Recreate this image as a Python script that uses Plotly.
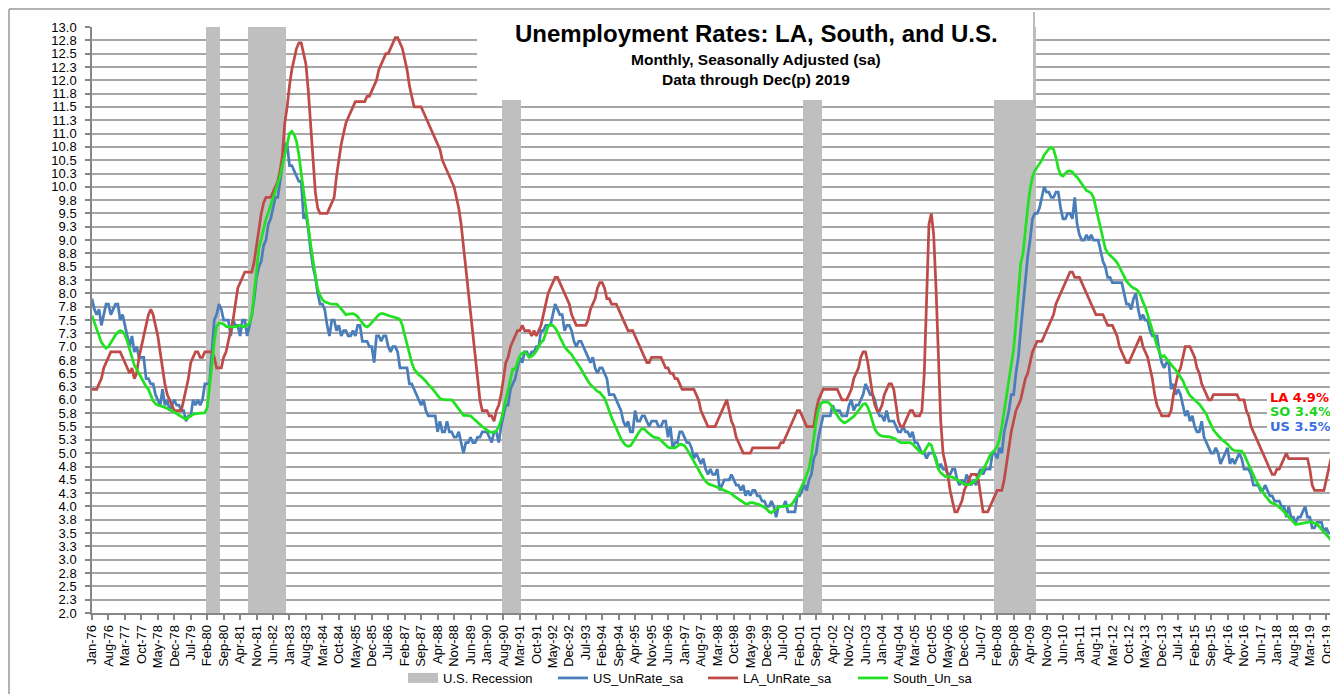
import math
import pandas as pd
import plotly.graph_objects as go

# ---------------- data ----------------
months = pd.date_range("1976-01-01", periods=528, freq="MS")
month_labels = months.strftime("%b-%y").tolist()

us_rate = [
    7.9, 7.7, 7.6, 7.7, 7.4, 7.6, 7.8, 7.8, 7.6, 7.7, 7.8, 7.8,   # 1976
    7.5, 7.6, 7.4, 7.2, 7.0, 7.2, 6.9, 7.0, 6.8, 6.8, 6.8, 6.4,   # 1977
    6.4, 6.3, 6.3, 6.1, 6.0, 5.9, 6.2, 5.9, 6.0, 5.8, 5.9, 6.0,   # 1978
    5.9, 5.9, 5.8, 5.8, 5.6, 5.7, 5.7, 6.0, 5.9, 6.0, 5.9, 6.0,   # 1979
    6.3, 6.3, 6.3, 6.9, 7.5, 7.6, 7.8, 7.7, 7.5, 7.5, 7.5, 7.2,   # 1980
    7.5, 7.4, 7.4, 7.2, 7.5, 7.5, 7.2, 7.4, 7.6, 7.9, 8.3, 8.5,   # 1981
    8.6, 8.9, 9.0, 9.3, 9.4, 9.6, 9.8, 9.8, 10.1, 10.4, 10.8, 10.8,  # 1982
    10.4, 10.4, 10.3, 10.2, 10.1, 10.1, 9.4, 9.5, 9.2, 8.8, 8.5, 8.3,  # 1983
    8.0, 7.8, 7.8, 7.7, 7.4, 7.2, 7.5, 7.5, 7.3, 7.4, 7.2, 7.3,   # 1984
    7.3, 7.2, 7.2, 7.3, 7.2, 7.4, 7.4, 7.1, 7.1, 7.1, 7.0, 7.0,   # 1985
    6.7, 7.2, 7.2, 7.1, 7.2, 7.2, 7.0, 6.9, 7.0, 7.0, 6.9, 6.6,   # 1986
    6.6, 6.6, 6.6, 6.3, 6.3, 6.2, 6.1, 6.0, 5.9, 6.0, 5.8, 5.7,   # 1987
    5.7, 5.7, 5.7, 5.4, 5.6, 5.4, 5.4, 5.6, 5.4, 5.4, 5.3, 5.3,   # 1988
    5.4, 5.2, 5.0, 5.2, 5.2, 5.3, 5.2, 5.2, 5.3, 5.3, 5.4, 5.4,   # 1989
    5.4, 5.3, 5.2, 5.4, 5.4, 5.2, 5.5, 5.7, 5.9, 5.9, 6.2, 6.3,   # 1990
    6.4, 6.6, 6.8, 6.7, 6.9, 6.9, 6.8, 6.9, 6.9, 7.0, 7.0, 7.3,   # 1991
    7.3, 7.4, 7.4, 7.4, 7.6, 7.8, 7.7, 7.6, 7.6, 7.3, 7.4, 7.4,   # 1992
    7.3, 7.1, 7.0, 7.1, 7.1, 7.0, 6.9, 6.8, 6.7, 6.8, 6.6, 6.5,   # 1993
    6.6, 6.6, 6.5, 6.4, 6.1, 6.1, 6.1, 6.0, 5.9, 5.8, 5.6, 5.5,   # 1994
    5.6, 5.4, 5.4, 5.8, 5.6, 5.6, 5.7, 5.7, 5.6, 5.5, 5.6, 5.6,   # 1995
    5.6, 5.5, 5.5, 5.6, 5.6, 5.3, 5.5, 5.1, 5.2, 5.2, 5.4, 5.4,   # 1996
    5.3, 5.2, 5.2, 5.1, 4.9, 5.0, 4.9, 4.8, 4.9, 4.7, 4.6, 4.7,   # 1997
    4.6, 4.6, 4.7, 4.3, 4.4, 4.5, 4.5, 4.5, 4.6, 4.5, 4.4, 4.4,   # 1998
    4.3, 4.4, 4.2, 4.3, 4.2, 4.3, 4.3, 4.2, 4.2, 4.1, 4.1, 4.0,   # 1999
    4.0, 4.1, 4.0, 3.8, 4.0, 4.0, 4.0, 4.1, 3.9, 3.9, 3.9, 3.9,   # 2000
    4.2, 4.2, 4.3, 4.4, 4.3, 4.5, 4.6, 4.9, 5.0, 5.3, 5.5, 5.7,   # 2001
    5.7, 5.7, 5.7, 5.9, 5.8, 5.8, 5.8, 5.7, 5.7, 5.7, 5.9, 6.0,   # 2002
    5.8, 5.9, 5.9, 6.0, 6.1, 6.3, 6.2, 6.1, 6.1, 6.0, 5.8, 5.7,   # 2003
    5.7, 5.6, 5.8, 5.6, 5.6, 5.6, 5.5, 5.4, 5.4, 5.5, 5.4, 5.4,   # 2004
    5.3, 5.4, 5.2, 5.2, 5.1, 5.0, 5.0, 4.9, 5.0, 5.0, 5.0, 4.9,   # 2005
    4.7, 4.8, 4.7, 4.7, 4.6, 4.6, 4.7, 4.7, 4.5, 4.4, 4.5, 4.4,   # 2006
    4.6, 4.5, 4.4, 4.5, 4.4, 4.6, 4.7, 4.6, 4.7, 4.7, 4.7, 5.0,   # 2007
    5.0, 4.9, 5.1, 5.0, 5.4, 5.6, 5.8, 6.1, 6.1, 6.5, 6.8, 7.3,   # 2008
    7.8, 8.3, 8.7, 9.0, 9.4, 9.5, 9.5, 9.6, 9.8, 10.0, 9.9, 9.9,  # 2009
    9.8, 9.8, 9.9, 9.9, 9.6, 9.4, 9.4, 9.5, 9.5, 9.4, 9.8, 9.3,   # 2010
    9.1, 9.0, 9.0, 9.1, 9.0, 9.1, 9.0, 9.0, 9.0, 8.8, 8.6, 8.5,   # 2011
    8.3, 8.3, 8.2, 8.2, 8.2, 8.2, 8.2, 8.0, 7.8, 7.8, 7.7, 7.9,   # 2012
    8.0, 7.7, 7.5, 7.6, 7.5, 7.5, 7.3, 7.2, 7.2, 7.2, 6.9, 6.7,   # 2013
    6.6, 6.7, 6.7, 6.2, 6.3, 6.1, 6.2, 6.1, 5.9, 5.7, 5.8, 5.6,   # 2014
    5.7, 5.5, 5.4, 5.4, 5.6, 5.3, 5.2, 5.1, 5.0, 5.0, 5.1, 5.0,   # 2015
    4.8, 4.9, 5.0, 5.1, 4.8, 4.9, 4.8, 4.9, 5.0, 4.9, 4.7, 4.7,   # 2016
    4.7, 4.6, 4.4, 4.4, 4.4, 4.3, 4.3, 4.4, 4.3, 4.2, 4.2, 4.1,   # 2017
    4.1, 4.1, 4.0, 4.0, 3.8, 4.0, 3.8, 3.8, 3.7, 3.8, 3.8, 3.9,   # 2018
    4.0, 3.8, 3.8, 3.6, 3.6, 3.7, 3.7, 3.7, 3.5, 3.6, 3.5, 3.5,   # 2019
]

la_rate = [
    6.2, 6.2, 6.2, 6.3, 6.4, 6.6, 6.7, 6.8, 6.9, 6.9, 6.9, 6.9,   # 1976
    6.9, 6.8, 6.7, 6.6, 6.5, 6.6, 6.4, 6.5, 6.8, 7.0, 7.2, 7.4,   # 1977
    7.6, 7.7, 7.6, 7.4, 7.2, 6.9, 6.6, 6.3, 6.1, 6.0, 5.9, 5.8,   # 1978
    5.8, 5.8, 5.8, 6.0, 6.2, 6.4, 6.7, 6.8, 6.9, 6.9, 6.8, 6.8,   # 1979
    6.9, 6.9, 6.9, 6.9, 6.8, 6.6, 6.6, 6.6, 6.8, 6.9, 7.1, 7.3,   # 1980
    7.5, 7.8, 8.1, 8.2, 8.3, 8.4, 8.4, 8.4, 8.4, 8.6, 8.9, 9.2,   # 1981
    9.5, 9.7, 9.8, 9.8, 9.8, 9.9, 10.0, 10.1, 10.3, 10.6, 11.2, 11.5,  # 1982
    11.9, 12.2, 12.4, 12.6, 12.7, 12.7, 12.5, 12.3, 11.8, 11.1, 10.4, 9.9,  # 1983
    9.6, 9.5, 9.5, 9.5, 9.5, 9.6, 9.7, 9.8, 10.2, 10.5, 10.8, 11.0,  # 1984
    11.2, 11.3, 11.4, 11.5, 11.6, 11.6, 11.6, 11.6, 11.6, 11.7, 11.7, 11.8,  # 1985
    11.9, 12.0, 12.2, 12.3, 12.4, 12.5, 12.5, 12.6, 12.7, 12.8, 12.8, 12.7,  # 1986
    12.6, 12.4, 12.2, 11.9, 11.7, 11.5, 11.5, 11.5, 11.5, 11.4, 11.3, 11.2,  # 1987
    11.1, 11.0, 10.9, 10.8, 10.7, 10.5, 10.4, 10.3, 10.2, 10.1, 10.0, 9.8,  # 1988
    9.6, 9.3, 8.9, 8.5, 8.1, 7.7, 7.3, 6.9, 6.4, 6.0, 5.8, 5.8,   # 1989
    5.8, 5.7, 5.7, 5.6, 5.8, 5.9, 6.1, 6.4, 6.7, 6.8, 7.0, 7.1,   # 1990
    7.2, 7.3, 7.3, 7.4, 7.3, 7.3, 7.3, 7.2, 7.3, 7.2, 7.3, 7.4,   # 1991
    7.6, 7.8, 8.0, 8.1, 8.2, 8.3, 8.3, 8.2, 8.1, 8.0, 7.9, 7.8,   # 1992
    7.6, 7.5, 7.4, 7.4, 7.4, 7.4, 7.4, 7.5, 7.7, 7.8, 7.9, 8.1,   # 1993
    8.2, 8.2, 8.1, 7.9, 7.9, 7.8, 7.8, 7.8, 7.7, 7.6, 7.5, 7.4,   # 1994
    7.3, 7.3, 7.3, 7.2, 7.1, 7.0, 6.9, 6.8, 6.7, 6.7, 6.8, 6.8,   # 1995
    6.8, 6.8, 6.8, 6.7, 6.6, 6.6, 6.5, 6.5, 6.4, 6.4, 6.3, 6.2,   # 1996
    6.2, 6.2, 6.2, 6.2, 6.2, 6.1, 6.0, 5.8, 5.7, 5.6, 5.5, 5.5,   # 1997
    5.5, 5.5, 5.6, 5.7, 5.8, 5.9, 6.0, 5.8, 5.6, 5.5, 5.3, 5.2,   # 1998
    5.1, 5.0, 5.0, 5.0, 5.0, 5.1, 5.1, 5.1, 5.1, 5.1, 5.1, 5.1,   # 1999
    5.1, 5.1, 5.1, 5.1, 5.1, 5.2, 5.2, 5.3, 5.4, 5.5, 5.6, 5.7,   # 2000
    5.8, 5.8, 5.7, 5.6, 5.5, 5.5, 5.5, 5.5, 5.8, 6.0, 6.1, 6.2,   # 2001
    6.2, 6.2, 6.2, 6.2, 6.2, 6.2, 6.1, 6.0, 6.0, 6.0, 6.1, 6.2,   # 2002
    6.4, 6.5, 6.6, 6.8, 6.9, 6.9, 6.7, 6.4, 6.1, 5.9, 5.8, 5.8,   # 2003
    5.9, 6.1, 6.2, 6.3, 6.3, 6.2, 5.9, 5.6, 5.5, 5.5, 5.6, 5.7,   # 2004
    5.8, 5.8, 5.7, 5.7, 5.7, 5.8, 6.5, 7.9, 9.3, 9.5, 9.1, 8.1,   # 2005
    6.9, 5.6, 5.0, 4.8, 4.6, 4.3, 4.1, 3.9, 3.9, 4.0, 4.1, 4.3,   # 2006
    4.4, 4.5, 4.6, 4.6, 4.6, 4.5, 4.2, 3.9, 3.9, 3.9, 4.0, 4.1,   # 2007
    4.2, 4.3, 4.3, 4.3, 4.5, 4.8, 5.1, 5.4, 5.6, 5.8, 5.9, 6.0,   # 2008
    6.2, 6.4, 6.5, 6.7, 6.9, 7.0, 7.1, 7.1, 7.1, 7.2, 7.3, 7.4,   # 2009
    7.5, 7.6, 7.8, 7.9, 8.0, 8.1, 8.2, 8.3, 8.4, 8.4, 8.3, 8.3,   # 2010
    8.3, 8.2, 8.1, 8.0, 7.9, 7.8, 7.7, 7.6, 7.6, 7.6, 7.6, 7.5,   # 2011
    7.4, 7.4, 7.4, 7.3, 7.2, 7.0, 6.9, 6.8, 6.7, 6.7, 6.8, 6.9,   # 2012
    7.0, 7.1, 7.2, 7.0, 6.9, 6.8, 6.6, 6.4, 6.1, 5.9, 5.8, 5.7,   # 2013
    5.7, 5.7, 5.7, 5.8, 6.1, 6.3, 6.5, 6.6, 6.8, 7.0, 7.0, 7.0,   # 2014
    6.9, 6.8, 6.6, 6.5, 6.3, 6.2, 6.1, 6.0, 6.0, 6.1, 6.1, 6.1,   # 2015
    6.1, 6.1, 6.1, 6.1, 6.1, 6.1, 6.1, 6.1, 6.0, 6.0, 6.0, 5.8,   # 2016
    5.7, 5.5, 5.4, 5.3, 5.2, 5.1, 5.0, 4.9, 4.8, 4.7, 4.6, 4.6,   # 2017
    4.7, 4.7, 4.8, 4.9, 5.0, 4.9, 4.9, 4.9, 4.9, 4.9, 4.9, 4.9,   # 2018
    4.9, 4.9, 4.7, 4.4, 4.3, 4.3, 4.3, 4.3, 4.3, 4.5, 4.7, 4.9,   # 2019
]

south_rate = [
    7.58, 7.45, 7.35, 7.22, 7.08, 7.02, 6.97, 7.00, 7.08, 7.15, 7.22, 7.27,  # 1976
    7.30, 7.28, 7.22, 7.10, 6.94, 6.80, 6.65, 6.58, 6.50, 6.40, 6.32, 6.25,  # 1977
    6.20, 6.10, 5.98, 5.93, 5.90, 5.89, 5.88, 5.86, 5.84, 5.82, 5.79, 5.77,  # 1978
    5.74, 5.71, 5.69, 5.66, 5.64, 5.67, 5.71, 5.73, 5.74, 5.75, 5.75, 5.75,  # 1979
    5.76, 5.85, 6.20, 6.65, 7.10, 7.38, 7.44, 7.44, 7.42, 7.38, 7.37, 7.37,  # 1980
    7.37, 7.37, 7.39, 7.40, 7.38, 7.37, 7.40, 7.44, 7.60, 8.00, 8.45, 8.85,  # 1981
    9.02, 9.22, 9.40, 9.52, 9.65, 9.80, 9.92, 10.05, 10.20, 10.40, 10.61, 10.85,  # 1982
    11.00, 11.04, 10.98, 10.85, 10.60, 10.25, 9.90, 9.55, 9.24, 8.92, 8.62, 8.35,  # 1983
    8.08, 7.96, 7.88, 7.84, 7.82, 7.81, 7.80, 7.80, 7.80, 7.76, 7.70, 7.64,  # 1984
    7.60, 7.61, 7.62, 7.62, 7.60, 7.56, 7.50, 7.44, 7.39, 7.37, 7.40, 7.45,  # 1985
    7.50, 7.56, 7.60, 7.62, 7.62, 7.60, 7.58, 7.57, 7.56, 7.55, 7.53, 7.51,  # 1986
    7.40, 7.22, 7.04, 6.86, 6.70, 6.58, 6.52, 6.47, 6.44, 6.40, 6.35, 6.29,  # 1987
    6.25, 6.20, 6.14, 6.08, 6.03, 6.01, 6.00, 6.00, 6.00, 6.00, 5.95, 5.89,  # 1988
    5.82, 5.76, 5.71, 5.71, 5.71, 5.70, 5.66, 5.62, 5.58, 5.53, 5.50, 5.47,  # 1989
    5.43, 5.40, 5.39, 5.39, 5.42, 5.50, 5.62, 5.80, 6.00, 6.20, 6.40, 6.58,  # 1990
    6.58, 6.72, 6.83, 6.88, 6.90, 6.86, 6.80, 6.82, 6.86, 6.92, 7.00, 7.08,  # 1991
    7.12, 7.25, 7.38, 7.42, 7.40, 7.35, 7.28, 7.18, 7.08, 7.00, 6.94, 6.90,  # 1992
    6.85, 6.78, 6.72, 6.65, 6.58, 6.50, 6.42, 6.35, 6.29, 6.24, 6.19, 6.16,  # 1993
    6.14, 6.09, 6.03, 5.92, 5.78, 5.67, 5.57, 5.46, 5.35, 5.27, 5.20, 5.15,  # 1994
    5.13, 5.14, 5.20, 5.28, 5.36, 5.42, 5.46, 5.45, 5.40, 5.36, 5.33, 5.30,  # 1995
    5.29, 5.28, 5.24, 5.20, 5.15, 5.11, 5.10, 5.10, 5.10, 5.13, 5.17, 5.16,  # 1996
    5.14, 5.08, 5.00, 4.92, 4.84, 4.76, 4.68, 4.60, 4.53, 4.47, 4.43, 4.41,  # 1997
    4.40, 4.38, 4.36, 4.34, 4.32, 4.30, 4.29, 4.27, 4.24, 4.20, 4.17, 4.14,  # 1998
    4.11, 4.08, 4.05, 4.05, 4.07, 4.07, 4.06, 4.05, 4.03, 4.01, 3.98, 3.95,  # 1999
    3.90, 3.88, 3.92, 3.96, 3.99, 4.00, 4.00, 4.00, 4.01, 4.02, 4.06, 4.13,  # 2000
    4.20, 4.30, 4.38, 4.48, 4.60, 4.72, 4.96, 5.30, 5.60, 5.82, 5.93, 5.96,  # 2001
    5.96, 5.96, 5.92, 5.85, 5.78, 5.70, 5.64, 5.60, 5.57, 5.59, 5.62, 5.66,  # 2002
    5.69, 5.74, 5.80, 5.86, 5.92, 5.93, 5.86, 5.74, 5.58, 5.45, 5.38, 5.34,  # 2003
    5.32, 5.31, 5.31, 5.31, 5.30, 5.28, 5.26, 5.22, 5.20, 5.20, 5.20, 5.20,  # 2004
    5.20, 5.17, 5.13, 5.08, 5.03, 5.00, 5.03, 5.10, 5.18, 5.15, 5.00, 4.82,  # 2005
    4.70, 4.63, 4.59, 4.56, 4.56, 4.56, 4.55, 4.53, 4.50, 4.47, 4.44, 4.42,  # 2006
    4.41, 4.41, 4.43, 4.46, 4.50, 4.55, 4.62, 4.69, 4.77, 4.86, 4.97, 5.02,  # 2007
    5.06, 5.13, 5.26, 5.50, 5.78, 6.05, 6.30, 6.60, 6.95, 7.45, 8.00, 8.55,  # 2008
    8.75, 9.22, 9.60, 9.95, 10.18, 10.30, 10.36, 10.44, 10.50, 10.60, 10.66, 10.71,  # 2009
    10.74, 10.70, 10.55, 10.35, 10.22, 10.20, 10.25, 10.29, 10.30, 10.28, 10.22, 10.18,  # 2010
    10.12, 10.05, 9.98, 9.93, 9.91, 9.88, 9.80, 9.60, 9.40, 9.22, 9.02, 8.84,  # 2011
    8.76, 8.72, 8.68, 8.63, 8.58, 8.50, 8.42, 8.32, 8.23, 8.17, 8.13, 8.10,  # 2012
    8.08, 8.04, 7.96, 7.84, 7.74, 7.60, 7.45, 7.30, 7.15, 7.02, 6.90, 6.80,  # 2013
    6.83, 6.77, 6.72, 6.67, 6.61, 6.56, 6.50, 6.43, 6.36, 6.25, 6.15, 6.08,  # 2014
    6.04, 6.00, 5.96, 5.92, 5.86, 5.80, 5.73, 5.62, 5.52, 5.44, 5.38, 5.32,  # 2015
    5.28, 5.24, 5.21, 5.17, 5.12, 5.07, 5.05, 5.05, 5.05, 5.04, 4.98, 4.88,  # 2016
    4.78, 4.67, 4.58, 4.49, 4.42, 4.34, 4.28, 4.20, 4.15, 4.09, 4.06, 4.05,  # 2017
    4.02, 3.99, 3.95, 3.90, 3.85, 3.80, 3.75, 3.70, 3.66, 3.67, 3.68, 3.69,  # 2018
    3.69, 3.70, 3.71, 3.70, 3.69, 3.67, 3.62, 3.57, 3.50, 3.45, 3.41, 3.37,  # 2019
]

# NBER recessions (months after peak through trough)
recession_periods = [
    ("1980-02", "1980-07"),
    ("1981-08", "1982-11"),
    ("1990-08", "1991-03"),
    ("2001-04", "2001-11"),
    ("2008-01", "2009-06"),
]
recession_height = 13.0

y_tick_values = [2.0 + 0.25 * i for i in range(45)]
y_tick_labels = ["%.1f" % (math.floor(v * 10 + 0.5) / 10) for v in y_tick_values]
x_tick_labels = month_labels[::7]

end_labels = [("LA 4.9%", "#FF0000"), ("SO 3.4%", "#1ED21E"), ("US 3.5%", "#3A6EE0")]

# ---------------- build ----------------
rec_flag = []
for d in months:
    inside = any(pd.Timestamp(s) <= d <= pd.Timestamp(e) for s, e in recession_periods)
    rec_flag.append(recession_height if inside else None)

REC_COLOR = "#BFBFBF"
fig = go.Figure()
fig.add_trace(go.Bar(x=month_labels, y=rec_flag, name="U.S. Recession", showlegend=False,
                     marker=dict(color=REC_COLOR, line=dict(width=0))))
# legend key for the recession shading (wide grey block, as in the original legend)
fig.add_trace(go.Scatter(x=[None], y=[None], name="U.S. Recession", mode="lines",
                         line=dict(color=REC_COLOR, width=10), legendrank=1))
fig.add_trace(go.Scatter(x=month_labels, y=us_rate, name="US_UnRate_sa", mode="lines",
                         line=dict(color="#4A7EBB", width=2.75), legendrank=2))
fig.add_trace(go.Scatter(x=month_labels, y=la_rate, name="LA_UnRate_sa", mode="lines",
                         line=dict(color="#BE4B48", width=2.75), legendrank=3))
fig.add_trace(go.Scatter(x=month_labels, y=south_rate, name="South_Un_sa", mode="lines",
                         line=dict(color="#22E022", width=2.75), legendrank=4))

# page body has an 8px margin: figure coordinates = screen coordinates - OFF
OFF = 8
W, H = 1338 - OFF, 694 - OFF
PL, PR, PT, PB = 92, 1331, 27, 613          # plot area in screen pixels
L, R, T, B = PL - OFF, (W + OFF) - PR, PT - OFF, (H + OFF) - PB
pw, ph = PR - PL, PB - PT


def px_x(x):
    return (x - PL) / pw


def px_y(y):
    return (PB - y) / ph


fig.update_layout(
    width=W, height=H,
    margin=dict(l=L, r=R, t=T, b=B, autoexpand=False),
    paper_bgcolor="white", plot_bgcolor="white",
    bargap=0,
    showlegend=True,
    hovermode=False,
    font=dict(family="Liberation Sans, Arial, sans-serif", size=13, color="#000000"),
    legend=dict(orientation="h", x=px_x(403), y=px_y(663), xanchor="left", yanchor="top",
                font=dict(size=13), entrywidth=105, entrywidthmode="pixels",
                bgcolor="rgba(0,0,0,0)"),
    xaxis=dict(type="category", range=[0, 527], tickmode="array",
               tickvals=x_tick_labels, ticktext=x_tick_labels, tickangle=-90,
               showgrid=False, showline=True, linecolor="#868686", linewidth=1.5,
               ticks="outside", ticklen=5, tickcolor="#868686", tickwidth=1.5,
               tickfont=dict(size=13), zeroline=False, automargin=False),
    yaxis=dict(range=[2, 13], tickmode="array", tickvals=y_tick_values, ticktext=y_tick_labels,
               showgrid=True, gridcolor="#A6A6A6", gridwidth=1.6,
               showline=True, mirror=True, linecolor="#868686", linewidth=1.5,
               ticks="outside", ticklen=5, tickcolor="#868686", tickwidth=1.5,
               ticklabelstandoff=6, tickfont=dict(size=13), zeroline=False, automargin=False),
)

shapes = [
    # outer chart border (top and left)
    dict(type="line", xref="paper", yref="paper", x0=px_x(9), x1=px_x(1345), y0=px_y(9), y1=px_y(9),
         line=dict(color="#9A9A9A", width=1.5), layer="above"),
    dict(type="line", xref="paper", yref="paper", x0=px_x(9), x1=px_x(9), y0=px_y(9), y1=px_y(700),
         line=dict(color="#9A9A9A", width=1.5), layer="above"),
    # title box
    dict(type="rect", xref="paper", yref="paper", x0=px_x(477), x1=px_x(1033), y0=px_y(12), y1=px_y(100),
         fillcolor="white", line=dict(width=0), layer="above"),
    dict(type="line", xref="paper", yref="paper", x0=px_x(1034), x1=px_x(1034), y0=px_y(12), y1=px_y(103),
         line=dict(color="#BBBBBB", width=2), layer="above"),
    # white patch behind the end labels
    dict(type="rect", xref="paper", yref="paper", x0=px_x(1267), x1=px_x(1345), y0=px_y(389), y1=px_y(435),
         fillcolor="white", line=dict(width=0), layer="above"),
]
fig.update_layout(shapes=shapes)

ann = [
    dict(text="<b>Unemployment Rates: LA, South, and U.S.</b>", x=px_x(756), y=px_y(33),
         font=dict(family="Liberation Sans, Arial", size=24, color="black")),
    dict(text="<b>Monthly, Seasonally Adjusted (sa)</b>", x=px_x(756), y=px_y(59),
         font=dict(family="Liberation Sans, Arial", size=15.5, color="black")),
    dict(text="<b>Data through Dec(p) 2019</b>", x=px_x(756), y=px_y(79),
         font=dict(family="Liberation Sans, Arial", size=15.5, color="black")),
]
for a in ann:
    a.update(xref="paper", yref="paper", showarrow=False, xanchor="center", yanchor="middle")

end_y = [397, 411.5, 426]
for (txt, col), yy in zip(end_labels, end_y):
    ann.append(dict(text="<b>%s</b>" % txt, x=px_x(1269), y=px_y(yy), xref="paper", yref="paper",
                    showarrow=False, xanchor="left", yanchor="middle", borderpad=0,
                    font=dict(family="DejaVu Sans", size=13, color=col)))
fig.update_layout(annotations=ann)

fig.write_html("out.html")
